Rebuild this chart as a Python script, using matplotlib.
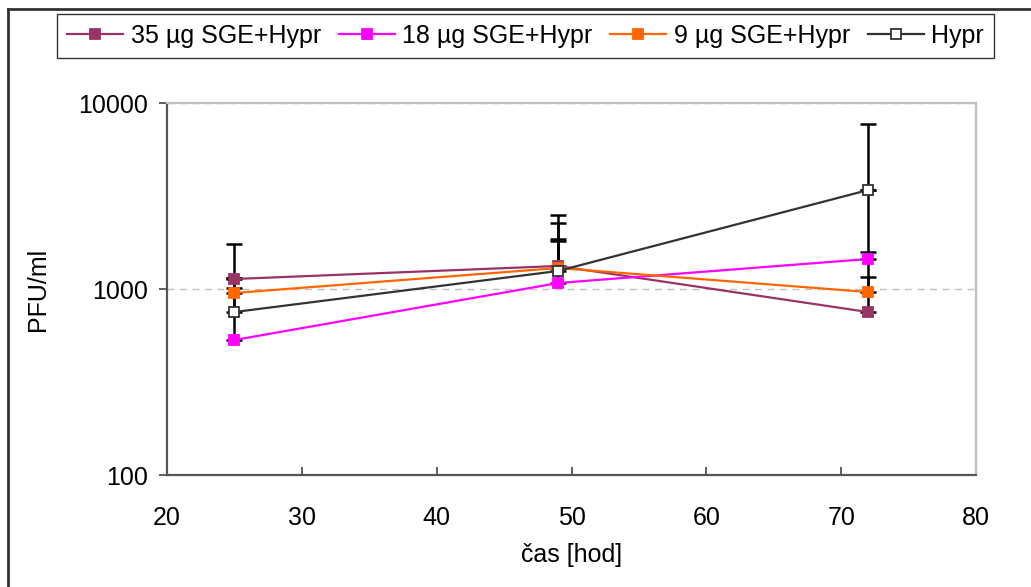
import matplotlib
matplotlib.use("Agg")
import matplotlib.pyplot as plt
from matplotlib.lines import Line2D
from matplotlib.ticker import FixedLocator, FuncFormatter, NullLocator

plt.rcParams['font.family'] = ['Liberation Sans', 'DejaVu Sans']

# cas odberu [hod]
cas = [25, 49, 72]

# PFU/ml pro jednotlive skupiny
sge35 = [1132, 1330, 752]
sge18 = [532, 1077, 1450]
sge9 = [952, 1297, 963]
hypr = [752, 1250, 3406]

# kladne chybove useky
err35 = [613, 935, 2654]
err18 = [478, 735, 131]
err9 = [193, 560, 197]
err_hypr = [393, 1250, 4304]

series = [
    ("35 µg SGE+Hypr", sge35, err35, "#993366", "#993366", "#993366"),
    ("18 µg SGE+Hypr", sge18, err18, "#FF00FF", "#FF00FF", "#FF00FF"),
    ("9 µg SGE+Hypr", sge9, err9, "#FF6600", "#FF6600", "#FF6600"),
    ("Hypr", hypr, err_hypr, "#333333", "white", "#333333"),
]

fs = 18

fig = plt.figure(figsize=(10.31, 5.87), dpi=100)
ax = fig.add_axes([0.162, 0.1908, 0.7847, 0.6337])

# chybove usecky (jen nahoru), pod carami
for name, y, e, c, fc, ec in series:
    ax.errorbar(cas, y, yerr=[[0] * len(y), e], fmt='none', ecolor='black',
                elinewidth=1.8, capsize=5.8, capthick=1.8, zorder=2)

for name, y, e, c, fc, ec in series:
    ax.plot(cas, y, color=c, lw=1.6, marker='s', ms=7.5, mfc=fc, mec=ec,
            mew=1.3, label=name, zorder=3)

ax.set_yscale('log')
ax.set_ylim(100, 10000)
ax.set_xlim(20, 80)
ax.set_xticks(range(20, 81, 10))
ax.yaxis.set_major_locator(FixedLocator([100, 1000, 10000]))
ax.yaxis.set_minor_locator(NullLocator())
ax.yaxis.set_major_formatter(FuncFormatter(lambda v, p: "%d" % v))
ax.tick_params(axis='y', direction='out', length=6, width=1.2, color='#444444',
               labelsize=fs, pad=8)
ax.tick_params(axis='x', direction='in', length=6, width=1.2, color='#444444',
               labelsize=fs, pad=22)

ax.yaxis.grid(True, color='#c0c0c0', ls=(0, (5, 4)), lw=1)
ax.set_axisbelow(True)

for s in ['left', 'bottom']:
    ax.spines[s].set_color('#555555')
    ax.spines[s].set_linewidth(1.6)
for s in ['top', 'right']:
    ax.spines[s].set_color('#c0c0c0')
    ax.spines[s].set_linewidth(1.6)

ax.set_ylabel("PFU/ml", fontsize=fs, labelpad=20)
ax.set_xlabel("čas [hod]", fontsize=fs, labelpad=10)

leg = fig.legend(loc='center', bbox_to_anchor=(0.5097, 0.9387), ncol=4,
                 fontsize=fs, frameon=True, fancybox=False, edgecolor='black',
                 handlelength=2.25, handletextpad=0.3, columnspacing=0.7,
                 borderpad=0.4, borderaxespad=0)
leg.get_frame().set_linewidth(1.0)

# ramecek grafu
fig.add_artist(Line2D([8 / 1031, 8 / 1031], [0, 1 - 9 / 587], color='#333333',
                      lw=2, transform=fig.transFigure))
fig.add_artist(Line2D([8 / 1031, 1], [1 - 9 / 587, 1 - 9 / 587], color='#333333',
                      lw=2, transform=fig.transFigure))

fig.savefig("out.png", dpi=100)
